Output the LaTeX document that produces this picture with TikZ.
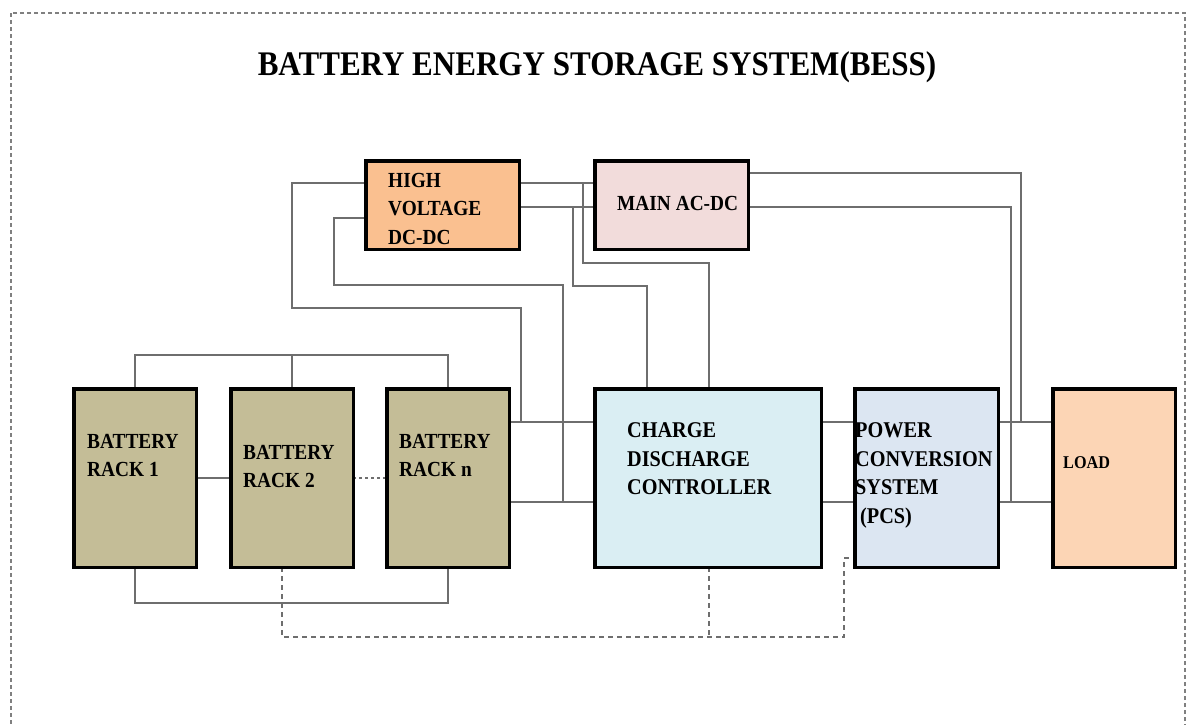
\documentclass[tikz,border=0pt]{standalone}
\usepackage{fontspec}
\setmainfont{Liberation Serif}
\newfontfamily\cf{Liberation Serif}[FakeStretch=0.9]
\usetikzlibrary{calc}
\definecolor{rackc}{HTML}{C4BD97}
\definecolor{hvc}{HTML}{FAC090}
\definecolor{mainc}{HTML}{F2DCDB}
\definecolor{cdcc}{HTML}{DAEEF3}
\definecolor{pcsc}{HTML}{DCE6F2}
\definecolor{loadc}{HTML}{FCD5B5}
\definecolor{wirec}{HTML}{6E6E6E}
\definecolor{framec}{HTML}{808080}
\begin{document}
\begin{tikzpicture}[x=1pt,y=-1pt,
  box/.style={draw=black,line width=3.5pt,inner sep=0pt,outer sep=0pt},
  wire/.style={draw=wirec,line width=1.5pt},
  sig/.style={draw=wirec,line width=1.5pt,dash pattern=on 5pt off 4pt},
  lbl/.style={anchor=north west,align=left,inner sep=0pt,text=black,
    font=\cf\bfseries\fontsize{21.5}{28.5}\selectfont},
  lblb/.style={lbl,font=\cf\bfseries\fontsize{22.5}{28.5}\selectfont},
]
\useasboundingbox (0,0) rectangle (1191,724);
\clip (0,0) rectangle (1191,724);
\fill[white] (0,0) rectangle (1191,724);

% outer frame
\draw[framec,line width=1.2pt,dash pattern=on 4pt off 3pt] (11,13) rectangle (1185,760);

% title
\node[anchor=base,inner sep=0pt,font=\cf\bfseries\fontsize{34.5}{38}\selectfont] (title) at (597,75)
  {BATTERY ENERGY STORAGE SYSTEM(BESS)};

% boxes
\node[box,fill=rackc,minimum width=122.5pt,minimum height=178.5pt] (r1) at (135,478) {};
\node[box,fill=rackc,minimum width=122.5pt,minimum height=178.5pt] (r2) at (292,478) {};
\node[box,fill=rackc,minimum width=122.5pt,minimum height=178.5pt] (rn) at (448,478) {};
\node[box,fill=cdcc,minimum width=226.5pt,minimum height=178.5pt] (cdc) at (708,478) {};
\node[box,fill=pcsc,minimum width=143.5pt,minimum height=178.5pt] (pcs) at (926.5,478) {};
\node[box,fill=loadc,minimum width=122.5pt,minimum height=178.5pt] (load) at (1114,478) {};
\node[box,fill=hvc,minimum width=153.5pt,minimum height=88.5pt] (hv) at (442.5,205) {};
\node[box,fill=mainc,minimum width=153.5pt,minimum height=88.5pt] (main) at (671.5,205) {};

% junction coordinates
\coordinate (j1) at (521,422);
\coordinate (j2) at (563,502);
\coordinate (j3) at (583,183);
\coordinate (j4) at (573,207);
\coordinate (j5) at (1021,422);
\coordinate (j6) at (1011,502);
\coordinate (j7) at (709,637);

% battery buses
\draw[wire] (r1.north) -- (r1.north |- 0,355) -- (rn.north |- 0,355) -- (rn.north);
\draw[wire] (r2.north) -- (r2.north |- 0,355);
\draw[wire] (r1.south) -- (r1.south |- 0,603) -- (rn.south |- 0,603) -- (rn.south);
\draw[wire] (r1.east) -- (r2.west);
\draw[wire,dash pattern=on 3pt off 3pt] (r2.east) -- (rn.west);

% rack n to controller
\draw[wire] (rn.east |- 0,422) -- (cdc.west |- 0,422);
\draw[wire] (rn.east |- 0,502) -- (cdc.west |- 0,502);

% HV DC-DC left side to buses
\draw[wire] (hv.west |- 0,183) -- (292,183) -- (292,308) -- (521,308) -- (j1);
\draw[wire] (hv.west |- 0,218) -- (334,218) -- (334,285) -- (563,285) -- (j2);

% HV to MAIN
\draw[wire] (hv.east |- 0,183) -- (main.west |- 0,183);
\draw[wire] (hv.east |- 0,207) -- (main.west |- 0,207);
\draw[wire] (j3) -- (583,263) -- (709,263) -- (cdc.north -| 709,0);
\draw[wire] (j4) -- (573,286) -- (647,286) -- (cdc.north -| 647,0);

% MAIN to load buses
\draw[wire] (main.east |- 0,173) -- (1021,173) -- (j5);
\draw[wire] (main.east |- 0,207) -- (1011,207) -- (j6);

% controller - PCS - load
\draw[wire] (cdc.east |- 0,422) -- (pcs.west |- 0,422);
\draw[wire] (cdc.east |- 0,502) -- (pcs.west |- 0,502);
\draw[wire] (pcs.east |- 0,422) -- (load.west |- 0,422);
\draw[wire] (pcs.east |- 0,502) -- (load.west |- 0,502);

% dashed signal lines
\draw[sig] (r2.south -| 282,0) -- (282,637) -- (844,637) -- (844,558) -- (pcs.west |- 0,558);
\draw[sig] (cdc.south -| 709,0) -- (j7);

% redraw box borders on top
\draw[line width=3.5pt] (r1.south west) rectangle (r1.north east);
\draw[line width=3.5pt] (r2.south west) rectangle (r2.north east);
\draw[line width=3.5pt] (rn.south west) rectangle (rn.north east);
\draw[line width=3.5pt] (cdc.south west) rectangle (cdc.north east);
\draw[line width=3.5pt] (pcs.south west) rectangle (pcs.north east);
\draw[line width=3.5pt] (load.south west) rectangle (load.north east);
\draw[line width=3.5pt] (hv.south west) rectangle (hv.north east);
\draw[line width=3.5pt] (main.south west) rectangle (main.north east);

% labels
\node[lbl] (t1) at (87,433.7) {BATTERY\\RACK 1};
\node[lbl] (t2) at (243,444.7) {BATTERY\\RACK 2};
\node[lbl] (tn) at (399,433.7) {BATTERY\\RACK n};
\node[lbl] (thv) at (388,172.7) {HIGH\\VOLTAGE\\DC-DC};
\node[lbl] (tmain) at (617,195.7) {MAIN AC-DC};
\node[lblb] (tcdc) at (627,422.5) {CHARGE\\DISCHARGE\\CONTROLLER};
\node[lblb] (tpcs) at (855,422.5) {POWER\\CONVERSION\\SYSTEM\\\hspace*{5pt}(PCS)};
\node[lbl,font=\cf\bfseries\fontsize{18}{22}\selectfont] (tload) at (1063,456) {LOAD};
\end{tikzpicture}
\end{document}
